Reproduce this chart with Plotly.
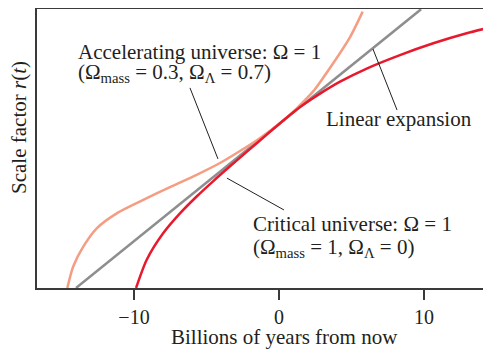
import plotly.graph_objects as go

# billions of years from now vs scale factor r(t)
accel_t = [-14.6, -14.2, -13.5, -12.57, -11.19, -9.36, -7.52, -5.68, -4.07, -2.69, -1.3, 0.3, 1.22, 2.37, 3.5, 4.9, 5.77]
accel_r = [0.0, 0.13, 0.252, 0.364, 0.455, 0.537, 0.615, 0.69, 0.762, 0.835, 0.915, 1.021, 1.095, 1.2, 1.34, 1.53, 1.685]

linear_t = [-14.0, 0.3, 9.8]
linear_r = [0.0, 1.021, 1.70]

crit_t = [-9.86, -9.13, -7.98, -6.83, -5.68, -4.53, -3.38, -2.23, -1.1, 0.3, 1.45, 2.83, 4.21, 6.05, 8.34, 10.64, 12.94, 14.7]
crit_r = [0.0, 0.171, 0.335, 0.455, 0.558, 0.652, 0.742, 0.83, 0.916, 1.021, 1.103, 1.185, 1.258, 1.338, 1.42, 1.492, 1.553, 1.592]

x_ticks = [-10, 0, 10]
x_tick_text = ["\u221210", "0", "10"]

SERIF = "Liberation Serif, Times New Roman, serif"
AXIS = "#3a3a3a"
INK = "#231f20"

fig = go.Figure()

fig.add_trace(go.Scatter(x=linear_t, y=linear_r, mode="lines",
                         line=dict(color="#8e8e8e", width=2.5), hoverinfo="skip"))
fig.add_trace(go.Scatter(x=accel_t, y=accel_r, mode="lines",
                         line=dict(color="#f59d82", width=2.5, shape="spline", smoothing=0.7),
                         hoverinfo="skip"))
fig.add_trace(go.Scatter(x=crit_t, y=crit_r, mode="lines",
                         line=dict(color="#e8192c", width=2.5, shape="spline", smoothing=0.7),
                         hoverinfo="skip"))

# leader lines from labels to curves
leaders = [
    ((-6.14, 1.22), (-4.21, 0.787)),
    ((6.48, 1.457), (8.14, 1.085)),
    ((-3.59, 0.67), (0.34, 0.476)),
]
for (x0, y0), (x1, y1) in leaders:
    fig.add_shape(type="line", x0=x0, y0=y0, x1=x1, y1=y1,
                  line=dict(color=INK, width=1))

labels = [
    (-14.0, 1.44, "Accelerating universe: \u03a9 = 1"),
    (-14.0, 1.31, "(\u03a9<sub>mass</sub> = 0.3, \u03a9<sub>\u039b</sub> = 0.7)"),
    (3.1, 1.03, "Linear expansion"),
    (-1.93, 0.39, "Critical universe: \u03a9 = 1"),
    (-1.93, 0.245, "(\u03a9<sub>mass</sub> = 1, \u03a9<sub>\u039b</sub> = 0)"),
]
for x, y, txt in labels:
    fig.add_annotation(x=x, y=y, text=txt, showarrow=False, xanchor="left", yanchor="middle",
                       font=dict(family=SERIF, size=21, color=INK))

# axis titles
fig.add_annotation(x=0.545, y=-0.176, xref="paper", yref="paper", showarrow=False,
                   text="Billions of years from now", xanchor="center", yanchor="middle",
                   font=dict(family=SERIF, size=21, color=INK))
fig.add_annotation(x=-0.041, y=0.575, xref="paper", yref="paper", showarrow=False,
                   text="Scale factor <i>r</i>(<i>t</i>)", textangle=-90,
                   xanchor="center", yanchor="middle",
                   font=dict(family=SERIF, size=21, color=INK))

# page body has an 8px margin, so the figure is shrunk by that much
fig.update_layout(
    width=483, height=343,
    margin=dict(l=29, r=0, t=1, b=63, autoexpand=False),
    paper_bgcolor="white", plot_bgcolor="white",
    showlegend=False,
    font=dict(family=SERIF, size=20, color=INK),
)
fig.update_xaxes(
    range=[-16.69, 14.62], tickvals=x_ticks, ticktext=x_tick_text,
    ticks="outside", ticklen=10, tickwidth=1.5, tickcolor=AXIS,
    showline=True, linecolor=AXIS, linewidth=2, mirror=True,
    showgrid=False, zeroline=False, automargin=False,
)
fig.update_yaxes(
    range=[0, 1.701], showticklabels=False, ticks="",
    showline=True, linecolor=AXIS, linewidth=2,
    showgrid=False, zeroline=False, automargin=False,
)

fig.write_html("out.html")
